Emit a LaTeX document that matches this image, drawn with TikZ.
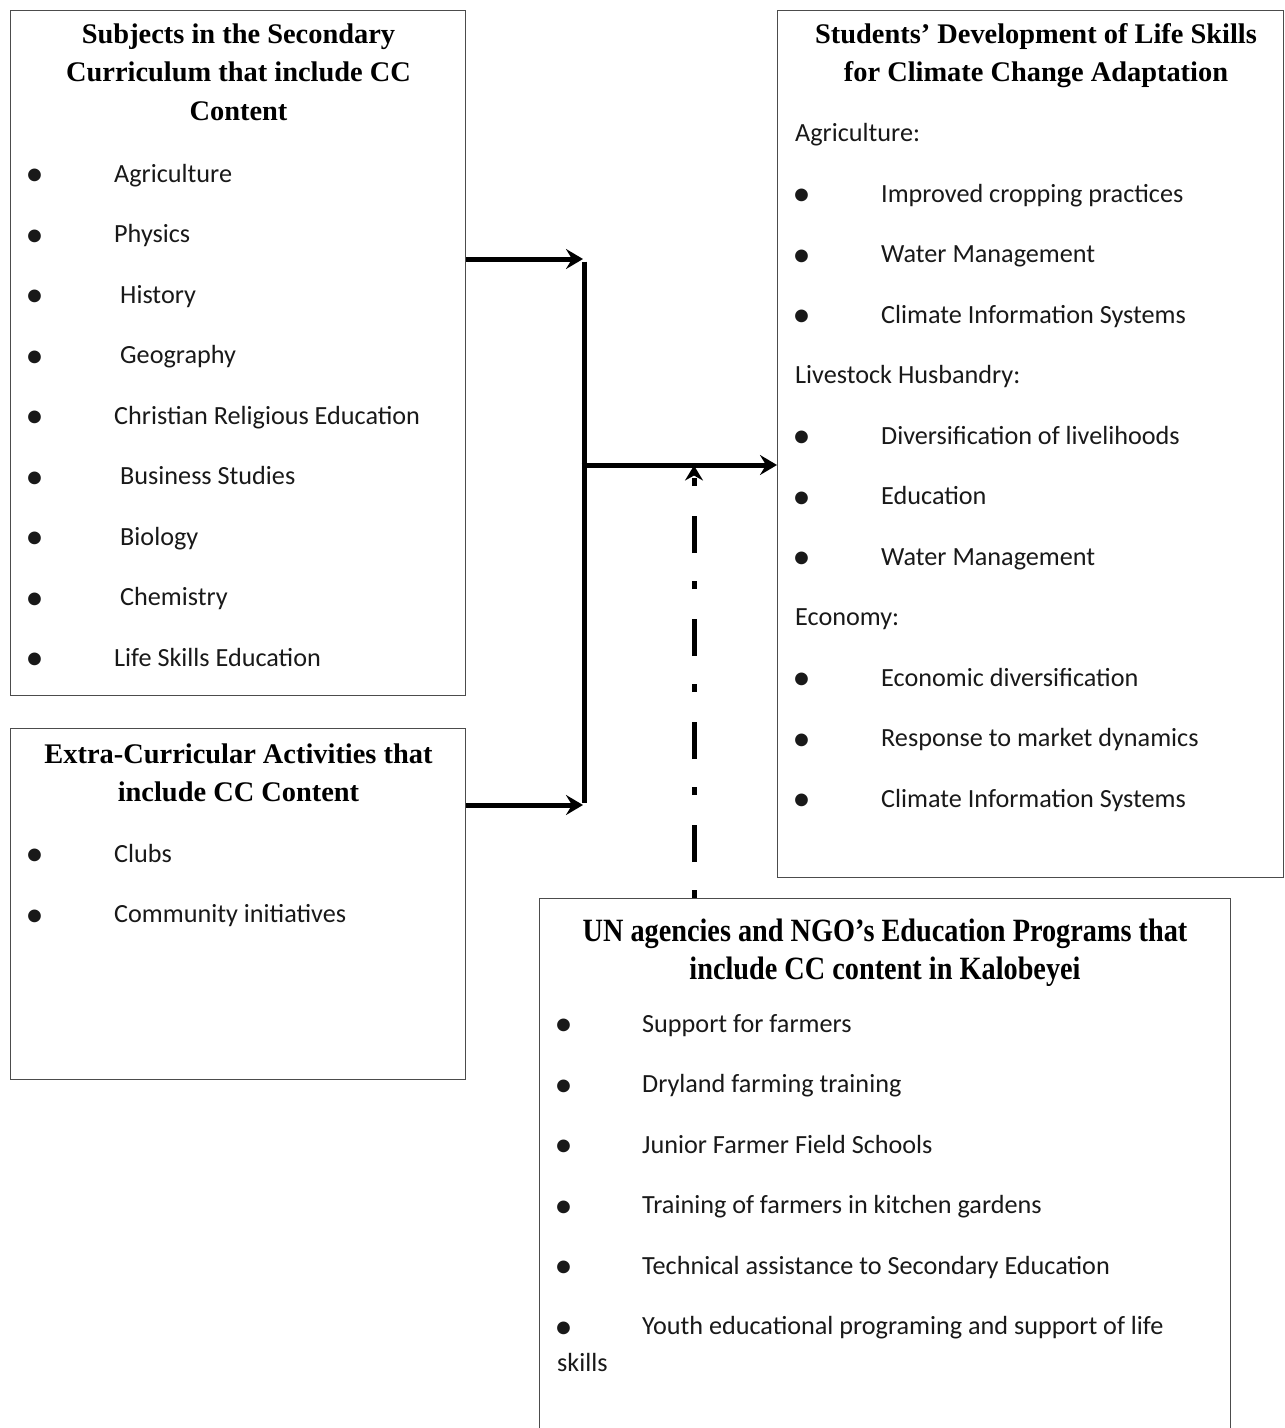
\documentclass[tikz,border=0pt]{standalone}
\usepackage{fontspec}
\setmainfont{Liberation Serif}
\newfontfamily\bodyf{Carlito}
\newfontfamily\narrowf[FakeStretch=0.87]{Liberation Serif}
\usetikzlibrary{arrows.meta}
\begin{document}
\begin{tikzpicture}[x=1pt,y=-1pt,
  box/.style={draw=black!70, line width=1.3pt, inner sep=0pt, anchor=north west},
  ttl/.style={font=\fontsize{28.4}{38}\selectfont\bfseries, anchor=base, inner sep=0pt},
  ttlun/.style={font=\narrowf\fontsize{32.5}{38}\selectfont\bfseries, anchor=base, inner sep=0pt},
  itm/.style={font=\bodyf\fontsize{26.2}{30}\selectfont, anchor=base west, inner sep=0pt, text=black!90},
  blt/.style={font=\bodyf\fontsize{36}{40}\selectfont, anchor=center, inner sep=0pt, text=black!90, yshift=-2.5pt},
  conn/.style={line width=5pt, -{Stealth[length=17pt,width=20pt,inset=6pt]}},
  dconn/.style={line width=5pt, dash pattern=on 8pt off 28pt on 37pt off 30pt, -{Stealth[length=15pt,width=18pt,inset=5pt]}}]
\useasboundingbox (0,0) rectangle (1285,1428);
\fill[white] (0,0) rectangle (1285,1428);

% boxes
\node[box, minimum width=455pt, minimum height=685pt] (subj) at (10,10) {};
\node[box, minimum width=455pt, minimum height=351pt] (extra) at (10,728) {};
\node[box, minimum width=506pt, minimum height=867pt] (stud) at (777,10) {};
\node[box, minimum width=691pt, minimum height=560pt] (un) at (539,898) {};

% box 1
\node[ttl] (t1a) at (238.5,43) {Subjects in the Secondary};
\node[ttl] (t1b) at (238.5,81.5) {Curriculum that include CC};
\node[ttl] (t1c) at (238.5,120) {Content};
\foreach \t/\xx [count=\i from 0] in {Agriculture/114,Physics/114,History/120,Geography/120,Christian Religious Education/114,Business Studies/120,Biology/120,Chemistry/120,Life Skills Education/114}{
  \node[blt] (s1b\i) at (34.5,175+60.5*\i) {•};
  \node[itm] (s1t\i) at (\xx,182+60.5*\i) {\t};
}

% box 2
\node[ttl] (t2a) at (238.5,763) {Extra-Curricular Activities that};
\node[ttl] (t2b) at (238.5,801) {include CC Content};
\foreach \t [count=\i from 0] in {Clubs,Community initiatives}{
  \node[blt] (s2b\i) at (34.5,855+60.5*\i) {•};
  \node[itm] (s2t\i) at (114,862+60.5*\i) {\t};
}

% box 3
\node[ttl] (t3a) at (1036,43) {Students’ Development of Life Skills};
\node[ttl] (t3b) at (1036,81.5) {for Climate Change Adaptation};
\foreach \t/\k in {Agriculture:/0,Livestock Husbandry:/4,Economy:/8}{
  \node[itm] (h3\k) at (795,141.5+60.5*\k) {\t};
}
\foreach \t/\k in {Improved cropping practices/1,Water Management/2,Climate Information Systems/3,Diversification of livelihoods/5,Education/6,Water Management/7,Economic diversification/9,Response to market dynamics/10,Climate Information Systems/11}{
  \node[blt] (s3b\k) at (801.5,134.5+60.5*\k) {•};
  \node[itm] (s3t\k) at (881,141.5+60.5*\k) {\t};
}

% box 4
\node[ttlun] (t4a) at (885,941) {UN agencies and NGO’s Education Programs that};
\node[ttlun] (t4b) at (885,979) {include CC content in Kalobeyei};
\foreach \t [count=\i from 0] in {Support for farmers,Dryland farming training,Junior Farmer Field Schools,Training of farmers in kitchen gardens,Technical assistance to Secondary Education,Youth educational programing and support of life}{
  \node[blt] (s4b\i) at (563.5,1025+60.5*\i) {•};
  \node[itm] (s4t\i) at (642,1032+60.5*\i) {\t};
}
\node[itm] (s4skills) at (557,1371) {skills};

% connectors
\coordinate (j1) at (584,259);
\coordinate (j2) at (584,805);
\coordinate (j3) at (584,465);
\coordinate (j4) at (694,468);
\draw[conn] (subj.east |- j1) -- ([xshift=-1pt]j1);
\draw[conn] (extra.east |- j2) -- ([xshift=-1pt]j2);
\draw[line width=5pt] ([yshift=-2.5pt]j1) -- ([yshift=2.5pt]j2);
\draw[conn] ([xshift=-2.5pt]j3) -- (stud.west |- j3);
\draw[dconn] (un.north -| j4) -- ([yshift=2.5pt]j4);
\end{tikzpicture}
\end{document}
